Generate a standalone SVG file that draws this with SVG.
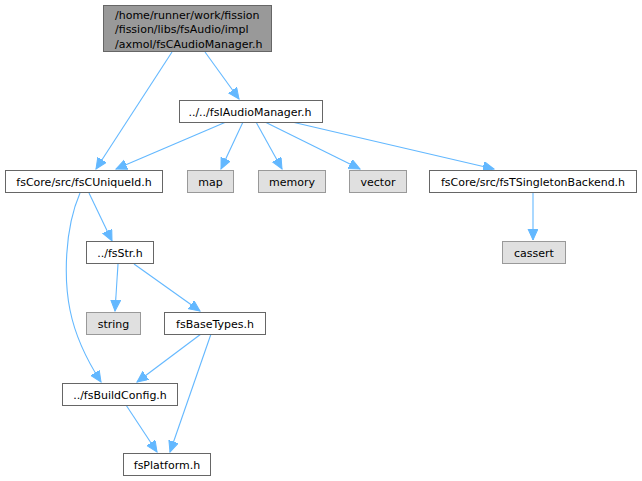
<svg xmlns="http://www.w3.org/2000/svg" width="642" height="481" viewBox="0 0 642 481">
<style>
.n rect{fill:#ffffff;stroke:#666666;stroke-width:1}
.n.root rect{fill:#999999;stroke:#666666}
.n.ext rect{fill:#e0e0e0;stroke:#999999}
text{font-family:"DejaVu Sans","Liberation Sans",sans-serif;font-size:11px;fill:#000000}
.c{text-anchor:middle}
#edges path{fill:none;stroke:#63b8ff;stroke-width:1.1;marker-end:url(#ah)}
</style>
<defs>
<marker id="ah" markerUnits="userSpaceOnUse" markerWidth="13" markerHeight="12" refX="11" refY="5" orient="auto">
<path d="M0,0 L11,5 L0,10 Z" fill="#63b8ff" stroke="#63b8ff" stroke-width="1"/>
</marker>
</defs>
<rect width="642" height="481" fill="#ffffff"/>
<g id="edges">
<path d="M172,52 L96,169"/>
<path d="M205,52 L239,99"/>
<path d="M226,122 L116,169"/>
<path d="M243,122 L221,169"/>
<path d="M256,122 L282,169"/>
<path d="M265,122 L360,169"/>
<path d="M292,122 L494,169"/>
<path d="M533,193 L533,240"/>
<path d="M89,193 L112,241"/>
<path d="M80,193 C64,230 64,280 70,310 C76,340 90,365 101,382"/>
<path d="M118,264 L115,311"/>
<path d="M134,264 L200,311"/>
<path d="M201,334 L137,382"/>
<path d="M211,334 L170,452"/>
<path d="M126,405 L157,452"/>
</g>
<g id="root" class="n root"><rect x="103.5" y="5.5" width="168" height="46"/><text x="115" y="18.5">/home/runner/work/fission</text><text x="115" y="33">/fission/libs/fsAudio/impl</text><text x="115" y="47.5">/axmol/fsCAudioManager.h</text></g>
<g id="fsIAudioManager" class="n"><rect x="179.5" y="100.5" width="143" height="22"/><text class="c" x="250" y="115.5">../../fsIAudioManager.h</text></g>
<g id="fsCUniqueId" class="n"><rect x="5.5" y="170.5" width="157" height="22"/><text class="c" x="84" y="185.5">fsCore/src/fsCUniqueId.h</text></g>
<g id="map" class="n ext"><rect x="187.5" y="170.5" width="46" height="22"/><text class="c" x="210.5" y="185.5">map</text></g>
<g id="memory" class="n ext"><rect x="258.5" y="170.5" width="67" height="22"/><text class="c" x="292" y="185.5">memory</text></g>
<g id="vector" class="n ext"><rect x="349.5" y="170.5" width="57" height="22"/><text class="c" x="378" y="185.5">vector</text></g>
<g id="fsTSingletonBackend" class="n"><rect x="429.5" y="170.5" width="207" height="22"/><text class="c" x="533" y="185.5">fsCore/src/fsTSingletonBackend.h</text></g>
<g id="cassert" class="n ext"><rect x="502.5" y="241.5" width="63" height="22"/><text class="c" x="534" y="256.5">cassert</text></g>
<g id="fsStr" class="n"><rect x="86.5" y="241.5" width="67" height="22"/><text class="c" x="120" y="256.5">../fsStr.h</text></g>
<g id="string" class="n ext"><rect x="86.5" y="312.5" width="54" height="22"/><text class="c" x="113.5" y="327.5">string</text></g>
<g id="fsBaseTypes" class="n"><rect x="164.5" y="312.5" width="101" height="22"/><text class="c" x="215" y="327.5">fsBaseTypes.h</text></g>
<g id="fsBuildConfig" class="n"><rect x="62.5" y="383.5" width="115" height="22"/><text class="c" x="120" y="398.5">../fsBuildConfig.h</text></g>
<g id="fsPlatform" class="n"><rect x="123.5" y="453.5" width="87" height="22"/><text class="c" x="167" y="468.5">fsPlatform.h</text></g>
</svg>
